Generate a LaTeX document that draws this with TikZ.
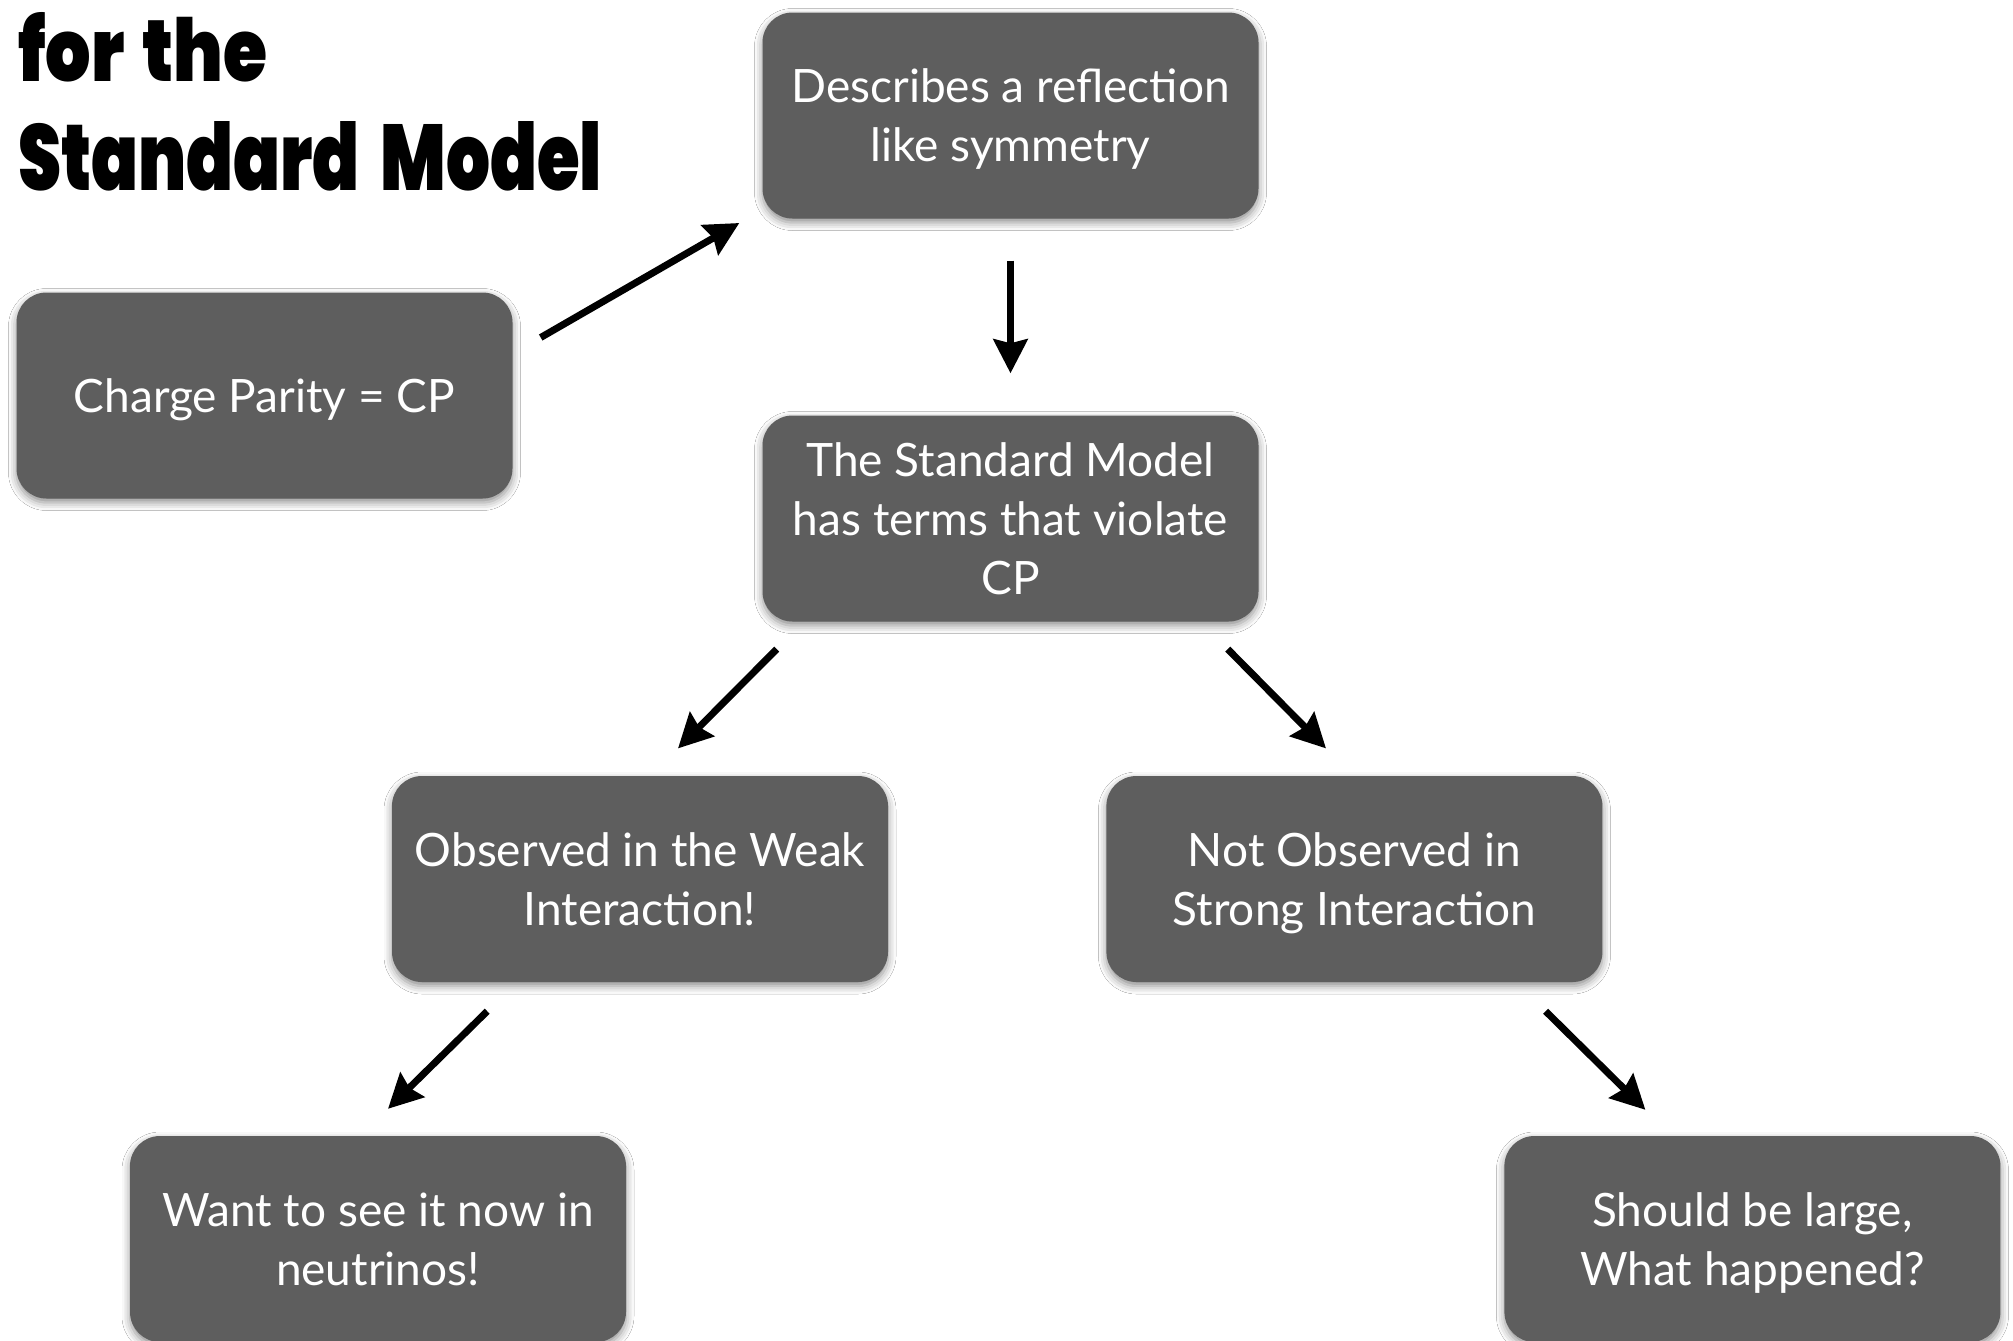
\documentclass[tikz,border=0pt]{standalone}
\usepackage{fontspec}
\setmainfont{Lato}
\newfontfamily\titlefont{Poppins Black}
\usetikzlibrary{arrows.meta,shadows.blur,calc}
\definecolor{boxgray}{RGB}{94,94,94}
\begin{document}
\begin{tikzpicture}[x=1pt,y=-1pt,
  card/.style={draw=none, fill=boxgray, rounded corners=30pt,
    minimum width=496pt, minimum height=206pt, text=white, align=center,
    font=\fontsize{46}{59}\selectfont, inner sep=0pt, text depth=0pt,
    blur shadow={shadow xshift=0pt, shadow yshift=-4pt, shadow blur radius=8pt, shadow opacity=45}},
  arr/.style={line width=7pt, -{Stealth[length=34pt,width=34pt,inset=4pt]}},
  ttl/.style={anchor=base west, inner sep=0pt}]
\useasboundingbox (0,0) rectangle (2013,1341);
\clip (0,0) rectangle (2013,1341);
\fill[white] (0,0) rectangle (2013,1341);

\node[ttl] (t1) at (18,81) {\resizebox{249pt}{69pt}{\titlefont for\hspace{0.25em}the}};
\node[ttl] (t2) at (18,190) {\resizebox{584pt}{69pt}{\titlefont Standard\hspace{0.3em}Model}};

\node[card] (A) at (1010.5,115.5) {Describes a reflection\\like symmetry};
\node[card] (B) at (264.5,395.5) {Charge Parity = CP};
\node[card] (C) at (1010.5,518.5) {The Standard Model\\has terms that violate\\CP};
\node[card] (D) at (640,879) {Observed in the Weak\\Interaction!};
\node[card] (E) at (1354.4,879) {Not Observed in\\Strong Interaction};
\node[card] (F) at (378,1239) {Want to see it now in\\neutrinos!};
\node[card] (G) at (1752.4,1239) {Should be large,\\What happened?};

\draw[arr] ($(B.east)+(28,-58)$) -- ($(A.west)+(-23,107.5)$);
\draw[arr] ($(A.south)+(0,42)$) -- ($(C.north)+(0,-42)$);
\draw[arr] ($(C.south west)+(14.4,27.4)$) -- ($(D.north)+(38,-27.4)$);
\draw[arr] ($(C.south east)+(-31,27.4)$) -- ($(E.north)+(-28.4,-27.4)$);
\draw[arr] ($(D.south west)+(95.4,29)$) -- ($(F.north)+(10,-27)$);
\draw[arr] ($(E.south east)+(-57,29)$) -- ($(G.north)+(-107,-26)$);
\end{tikzpicture}
\end{document}
